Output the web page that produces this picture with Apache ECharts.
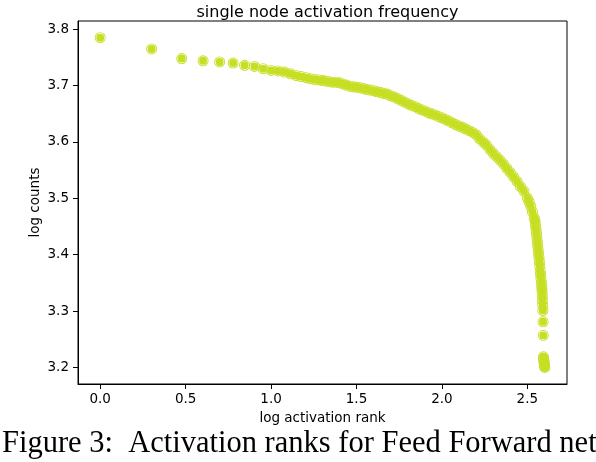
<!DOCTYPE html>
<html>
<head>
<meta charset="utf-8">
<script src="https://cdn.jsdelivr.net/npm/echarts@6/dist/echarts.min.js"></script>
<style>
html,body{margin:0;padding:0;background:#fff;}
#c{width:596px;height:462px;}
</style>
</head>
<body>
<div id="c"></div>
<script>
// log activation rank (x) and log counts (y)
var logRank = [
  0, 0.301, 0.477, 0.602, 0.699, 0.778, 0.845, 0.903, 0.954, 1.000,
  1.041, 1.079, 1.114, 1.146, 1.176, 1.204, 1.230, 1.255, 1.279, 1.301,
  1.32, 1.34, 1.36, 1.38, 1.40, 1.42, 1.44, 1.46, 1.48, 1.50,
  1.52, 1.54, 1.56, 1.58, 1.60, 1.62, 1.64, 1.66, 1.68, 1.70,
  1.72, 1.74, 1.76, 1.78, 1.80, 1.82, 1.84, 1.86, 1.88, 1.90,
  1.92, 1.94, 1.96, 1.98, 2.00, 2.02, 2.04, 2.06, 2.08, 2.10,
  2.12, 2.14, 2.16, 2.18, 2.20, 2.22, 2.24, 2.26, 2.28, 2.30,
  2.32, 2.34, 2.36, 2.38, 2.40, 2.42, 2.44, 2.46, 2.48, 2.50,
  2.51, 2.52, 2.53, 2.54,
  2.5441, 2.5465, 2.5490, 2.5514, 2.5539, 2.5563, 2.5587, 2.5611, 2.5635, 2.5658,
  2.5682, 2.5705, 2.5729, 2.5752, 2.5775, 2.5798, 2.5821, 2.5843, 2.5855, 2.5866,
  2.5877, 2.5888, 2.5899, 2.5911, 2.5922, 2.5933, 2.5944, 2.5955, 2.5966, 2.5977,
  2.5988, 2.5999, 2.6010, 2.6021
];
var logCounts = [
  3.785, 3.765, 3.748, 3.744, 3.742, 3.740, 3.736, 3.734, 3.730, 3.727,
  3.726, 3.724, 3.721, 3.718, 3.716, 3.714, 3.712, 3.711, 3.710, 3.709,
  3.708, 3.707, 3.706, 3.706, 3.705, 3.703, 3.701, 3.699, 3.698, 3.697,
  3.696, 3.695, 3.693, 3.692, 3.691, 3.689, 3.688, 3.686, 3.685, 3.682,
  3.680, 3.677, 3.674, 3.671, 3.668, 3.665, 3.663, 3.660, 3.657, 3.655,
  3.652, 3.650, 3.648, 3.645, 3.643, 3.640, 3.637, 3.634, 3.631, 3.628,
  3.626, 3.623, 3.620, 3.617, 3.613, 3.606, 3.600, 3.595, 3.587, 3.580,
  3.574, 3.568, 3.561, 3.553, 3.546, 3.538, 3.530, 3.521, 3.513, 3.501,
  3.494, 3.486, 3.476, 3.465,
  3.462, 3.456, 3.450, 3.444, 3.437, 3.430, 3.423, 3.416, 3.409, 3.402,
  3.395, 3.388, 3.380, 3.372, 3.365, 3.358, 3.351, 3.345, 3.340, 3.334,
  3.327, 3.319, 3.310, 3.301, 3.281, 3.257, 3.219, 3.216, 3.213, 3.210,
  3.207, 3.204, 3.202, 3.200
];
var xTicks = [0.0, 0.5, 1.0, 1.5, 2.0, 2.5];
var yTicks = [3.2, 3.3, 3.4, 3.5, 3.6, 3.7, 3.8];

var chartTitle = 'single node activation frequency';
var xName = 'log activation rank';
var yName = 'log counts';
var caption = 'Figure 3:  Activation ranks for Feed Forward net';

var points = logRank.map(function (x, i) { return [x, logCounts[i]]; });

var ringSymbol = 'path://M0,-10A10,10 0 1,1 0,10A10,10 0 1,1 0,-10Z' +
  'M0,-8.4A8.4,8.4 0 1,0 0,8.4A8.4,8.4 0 1,0 0,-8.4Z' +
  'M0,-7.2A7.2,7.2 0 1,1 0,7.2A7.2,7.2 0 1,1 0,-7.2Z';

var chart = echarts.init(document.getElementById('c'), null, {renderer: 'canvas'});
var tickFont = {fontFamily: 'DejaVu Sans', fontSize: 13.5, color: '#000'};
chart.setOption({
  animation: false,
  backgroundColor: '#fff',
  title: {
    text: chartTitle,
    left: 322.5,
    textAlign: 'center',
    top: 0,
    textStyle: {fontFamily: 'DejaVu Sans', fontSize: 16, fontWeight: 'normal', color: '#000'}
  },
  grid: {
    left: 78, right: 29, top: 21, bottom: 78,
    show: true, borderColor: '#000', borderWidth: 1, backgroundColor: '#fff'
  },
  xAxis: {
    type: 'value',
    min: -0.1301, max: 2.7322,
    name: xName, nameLocation: 'middle', nameGap: 27, nameMoveOverlap: false,
    nameTextStyle: {fontFamily: 'DejaVu Sans', fontSize: 13.5, color: '#000'},
    axisLine: {show: true, onZero: false, lineStyle: {color: '#000', width: 1}},
    axisTick: {show: true, length: 5, customValues: xTicks, lineStyle: {color: '#000', width: 1}},
    axisLabel: Object.assign({margin: 8, customValues: xTicks, formatter: function (v) { return v.toFixed(1); }}, tickFont),
    splitLine: {show: false}
  },
  yAxis: {
    type: 'value',
    min: 3.1707, max: 3.8146,
    name: yName, nameLocation: 'middle', nameGap: 36, nameRotate: 90, nameMoveOverlap: false,
    nameTextStyle: {fontFamily: 'DejaVu Sans', fontSize: 13.5, color: '#000'},
    axisLine: {show: true, onZero: false, lineStyle: {color: '#000', width: 1}},
    axisTick: {show: true, length: 5, customValues: yTicks, lineStyle: {color: '#000', width: 1}},
    axisLabel: Object.assign({margin: 9, customValues: yTicks, formatter: function (v) { return v.toFixed(1); }}, tickFont),
    splitLine: {show: false}
  },
  graphic: [{
    type: 'text',
    left: 2,
    top: 428,
    style: {
      text: caption,
      fontFamily: 'Liberation Serif',
      fontSize: 30.5,
      fill: '#000'
    }
  }],
  series: [{
    type: 'scatter',
    data: points,
    symbol: ringSymbol,
    symbolSize: 11,
    silent: true,
    itemStyle: {color: '#c6df24', opacity: 1}
  }]
});
</script>
</body>
</html>
